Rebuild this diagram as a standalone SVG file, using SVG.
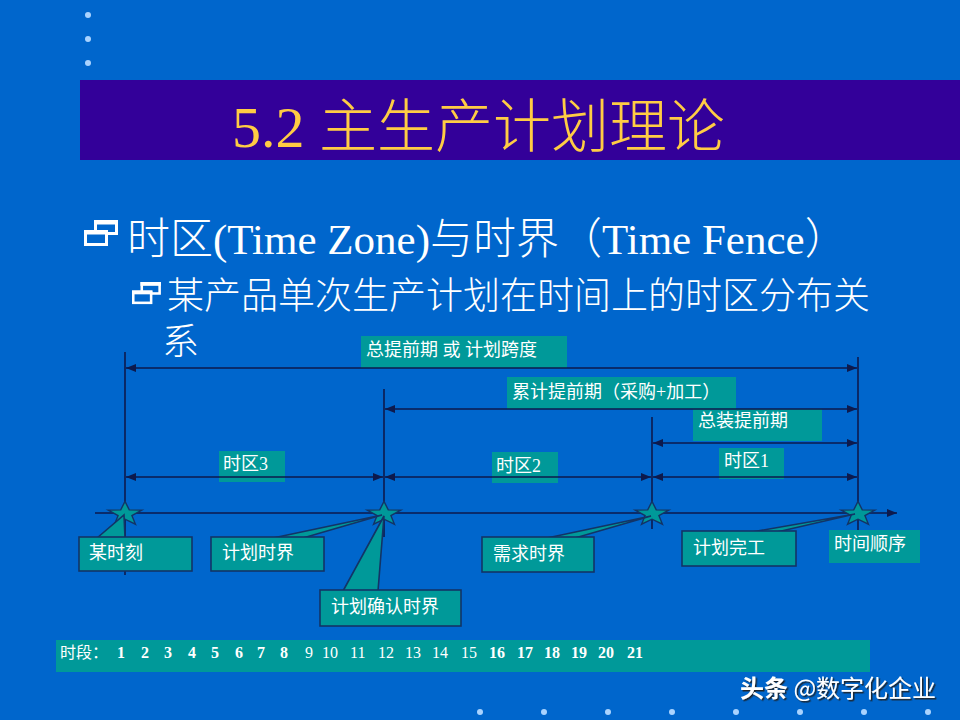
<svg xmlns="http://www.w3.org/2000/svg" xmlns:xlink="http://www.w3.org/1999/xlink" width="960" height="720" viewBox="0 0 960 720">
<style>
text{font-family:"Liberation Serif","Noto Sans CJK SC",serif;}
.lbl{fill:#009999;}
.lt{fill:#ffffff;font-size:18px;}
.ln{stroke:#0d1a4d;stroke-width:1.6;fill:none;}
.box{fill:#009999;stroke:#123466;stroke-width:1.6;}
.star{fill:#009999;stroke:#123466;stroke-width:1.2;}
.dot{fill:#a9d3ff;}
.num{fill:#ffffff;font-size:16px;}
.b{font-weight:bold;}
.light{font-weight:300;}
</style>
<defs>
<marker id="ah" viewBox="0 0 10 8" refX="10" refY="4" markerWidth="10" markerHeight="8" markerUnits="userSpaceOnUse" orient="auto-start-reverse">
<path d="M0,0 L10,4 L0,8 Z" fill="#0d1a4d"/>
</marker>
<path id="starshape" d="M0,-11 L3.7,-3.6 L14.6,-3.4 L6,1.4 L9.1,8.9 L0,4.5 L-9.1,8.9 L-6,1.4 L-14.6,-3.4 L-3.7,-3.6 Z"/>
<g id="bullet">
<rect x="11.5" y="1.5" width="21" height="12" fill="none" stroke="#ffffff" stroke-width="3"/>
<rect x="10" y="0" width="24" height="4.5" fill="#ffffff"/>
<rect x="1.5" y="11.5" width="21" height="13" fill="#0066cc" stroke="#ffffff" stroke-width="3"/>
<rect x="0" y="10" width="24" height="4.5" fill="#ffffff"/>
</g>
<filter id="shadow" x="-10%" y="-20%" width="130%" height="160%">
<feDropShadow dx="1.5" dy="1.5" stdDeviation="0.6" flood-color="#1a1a1a" flood-opacity="0.9"/>
</filter>
</defs>

<rect x="0" y="0" width="960" height="720" fill="#0066cc"/>

<g id="decor-dots">
<circle class="dot" cx="88" cy="15" r="3"/>
<circle class="dot" cx="88" cy="39" r="3"/>
<circle class="dot" cx="88" cy="63" r="3"/>
<circle class="dot" cx="480" cy="712" r="3"/>
<circle class="dot" cx="544" cy="712" r="3"/>
<circle class="dot" cx="608" cy="712" r="3"/>
<circle class="dot" cx="672" cy="712" r="3"/>
<circle class="dot" cx="736" cy="712" r="3"/>
<circle class="dot" cx="800" cy="712" r="3"/>
<circle class="dot" cx="864" cy="712" r="3"/>
<circle class="dot" cx="928" cy="712" r="3"/>
</g>

<g id="title">
<rect x="80" y="80" width="880" height="80" fill="#330099"/>
<text class="light" x="232" y="147" font-size="58" fill="#ffcc44">5.2 主生产计划理论</text>
</g>

<g id="bullets">
<use xlink:href="#bullet" transform="translate(84,220)"/>
<text class="light" x="127" y="254" font-size="43" fill="#ffffff">时区(Time Zone)与时界（Time Fence）</text>
<use xlink:href="#bullet" transform="translate(132,282) scale(0.85)"/>
<text class="light" x="167" y="309" font-size="37" fill="#ffffff">某产品单次生产计划在时间上的时区分布关</text>
<text class="light" x="162" y="355" font-size="37" fill="#ffffff">系</text>
</g>

<g id="label-total">
<rect class="lbl" x="361" y="336" width="206" height="32"/>
<text class="lt" x="366" y="356">总提前期 或 计划跨度</text>
</g>
<g id="label-cumulative">
<rect class="lbl" x="507" y="377" width="229" height="32"/>
<text class="lt" x="512" y="398">累计提前期（采购+加工）</text>
</g>
<g id="label-assembly">
<rect class="lbl" x="693" y="409" width="129" height="32"/>
<text class="lt" x="698" y="427">总装提前期</text>
</g>
<g id="label-zone3">
<rect class="lbl" x="219" y="451" width="66" height="31"/>
<text class="lt" x="223" y="470">时区3</text>
</g>
<g id="label-zone2">
<rect class="lbl" x="492" y="452" width="66" height="31"/>
<text class="lt" x="496" y="472">时区2</text>
</g>
<g id="label-zone1">
<rect class="lbl" x="719" y="448" width="65" height="31"/>
<text class="lt" x="724" y="467">时区1</text>
</g>

<g id="connectors">
<line class="ln" x1="125" y1="352" x2="125" y2="575"/>
<line class="ln" x1="384" y1="389" x2="384" y2="537"/>
<line class="ln" x1="652" y1="417" x2="652" y2="529"/>
<line class="ln" x1="858" y1="357" x2="858" y2="532"/>
<line class="ln" x1="126" y1="368" x2="857" y2="368" marker-start="url(#ah)" marker-end="url(#ah)"/>
<line class="ln" x1="385" y1="409" x2="857" y2="409" marker-start="url(#ah)" marker-end="url(#ah)"/>
<line class="ln" x1="653" y1="443" x2="857" y2="443" marker-start="url(#ah)" marker-end="url(#ah)"/>
<line class="ln" x1="126" y1="477" x2="383" y2="477" marker-start="url(#ah)" marker-end="url(#ah)"/>
<line class="ln" x1="385" y1="477" x2="651" y2="477" marker-start="url(#ah)" marker-end="url(#ah)"/>
<line class="ln" x1="653" y1="477" x2="857" y2="477" marker-start="url(#ah)" marker-end="url(#ah)"/>
<line class="ln" x1="95" y1="513" x2="897" y2="513" marker-end="url(#ah)"/>
</g>

<g id="stars">
<use xlink:href="#starshape" class="star" transform="translate(125,514) scale(1.15)"/>
<use xlink:href="#starshape" class="star" transform="translate(384,514) scale(1.15)"/>
<use xlink:href="#starshape" class="star" transform="translate(652,514) scale(1.15)"/>
<use xlink:href="#starshape" class="star" transform="translate(858,514) scale(1.15)"/>
</g>

<g id="callout-moment">
<polygon class="box" points="97,538 124,515 125,538"/>
<rect class="box" x="79" y="537" width="113" height="34"/>
<text class="lt" x="89" y="559">某时刻</text>
</g>
<g id="callout-plan-fence">
<polygon class="box" points="273,538 382,515 303,538"/>
<rect class="box" x="211" y="537" width="113" height="34"/>
<text class="lt" x="222" y="559">计划时界</text>
</g>
<g id="callout-confirm-fence">
<polygon class="box" points="343,591 384,516 378,591"/>
<rect class="box" x="320" y="590" width="141" height="36"/>
<text class="lt" x="331" y="613">计划确认时界</text>
</g>
<g id="callout-demand-fence">
<polygon class="box" points="547,538 651,516 575,538"/>
<rect class="box" x="482" y="537" width="112" height="35"/>
<text class="lt" x="493" y="560">需求时界</text>
</g>
<g id="callout-completion">
<polygon class="box" points="752,532 855,514 777,532"/>
<rect class="box" x="682" y="531" width="114" height="35"/>
<text class="lt" x="693" y="554">计划完工</text>
</g>
<g id="label-time-order">
<rect class="lbl" x="829" y="530" width="91" height="33"/>
<text class="lt" x="834" y="550">时间顺序</text>
</g>

<g id="period-bar">
<rect class="lbl" x="56" y="640" width="814" height="32"/>
<text class="num" y="658"><tspan x="60">时段：</tspan><tspan class="b" x="117">1</tspan><tspan class="b" x="141">2</tspan><tspan class="b" x="164">3</tspan><tspan class="b" x="188">4</tspan><tspan class="b" x="211">5</tspan><tspan class="b" x="235">6</tspan><tspan class="b" x="257">7</tspan><tspan class="b" x="280">8</tspan><tspan x="305">9</tspan><tspan x="322">10</tspan><tspan x="350">11</tspan><tspan x="378">12</tspan><tspan x="405">13</tspan><tspan x="432">14</tspan><tspan x="461">15</tspan><tspan class="b" x="489">16</tspan><tspan class="b" x="517">17</tspan><tspan class="b" x="544">18</tspan><tspan class="b" x="571">19</tspan><tspan class="b" x="598">20</tspan><tspan class="b" x="627">21</tspan></text>
</g>

<g id="watermark" filter="url(#shadow)">
<text x="740" y="697" font-size="24" fill="#ffffff" style="font-family:'Noto Sans CJK SC','Liberation Sans',sans-serif"><tspan font-weight="bold">头条</tspan> @数字化企业</text>
</g>
</svg>
